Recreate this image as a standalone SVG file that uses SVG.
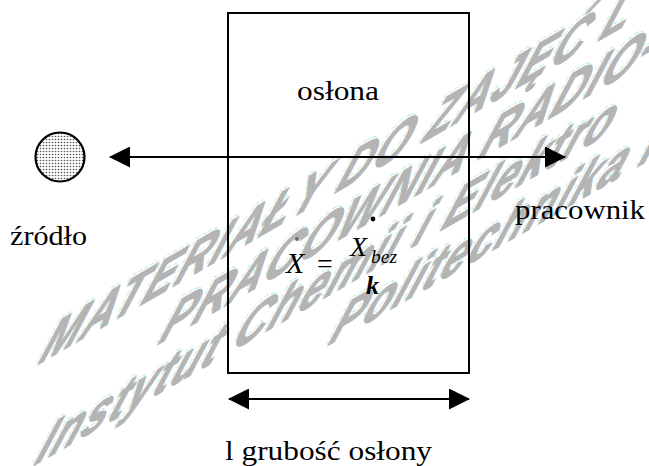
<svg xmlns="http://www.w3.org/2000/svg" width="649" height="466" viewBox="0 0 649 466">
  <defs>
    <!-- fine dot screen used for the source disc -->
    <pattern id="stipple" width="3" height="3" patternUnits="userSpaceOnUse">
      <rect width="3" height="3" fill="#ffffff"/>
      <circle cx="1.5" cy="1.5" r="0.8" fill="#505050"/>
    </pattern>
    <marker id="head" viewBox="0 0 21 21" refX="20" refY="10.5" markerWidth="21" markerHeight="21" markerUnits="userSpaceOnUse" orient="auto-start-reverse">
      <path d="M0,0 L21,10.5 L0,21 Z" fill="#000"/>
    </marker>
    <style>
      .lbl { font-size: 27px; fill: #000; }
      .line { stroke: #000; stroke-width: 2; fill: none; }
      .wm { fill: #b4b4b4; stroke: #b4b4b4; stroke-width: 1.2; }
      .wm-edge { fill: none; stroke: #b8eeee; stroke-width: 1; stroke-dasharray: 4 2; }
    </style>
  </defs>

  <rect width="649" height="466" fill="#ffffff"/>

  <!-- slanted background watermark -->
  <g id="watermark" font-family="'Liberation Sans', Arial, sans-serif" font-weight="bold" font-style="italic" font-size="46" letter-spacing="2">
    <g transform="translate(37,365) skewY(-30) skewX(-30)">
      <text class="wm-edge" x="-3" y="-3">MATERIAŁY DO ZAJĘĆ L</text>
      <text class="wm" x="0" y="0">MATERIAŁY DO ZAJĘĆ L</text>
    </g>
    <g transform="translate(157,345) skewY(-30) skewX(-30)">
      <text class="wm-edge" x="-3" y="-3">PRACOWNIA RADIO-</text>
      <text class="wm" x="0" y="0">PRACOWNIA RADIO-</text>
    </g>
    <g transform="translate(33,466) skewY(-30) skewX(-30)">
      <text class="wm-edge" x="-3" y="-3">Instytut Chemii i Elektro</text>
      <text class="wm" x="0" y="0">Instytut Chemii i Elektro</text>
    </g>
    <g transform="translate(327,346) skewY(-30) skewX(-30)">
      <text class="wm-edge" x="-3" y="-3">Politechnika P</text>
      <text class="wm" x="0" y="0">Politechnika P</text>
    </g>
  </g>

  <!-- radiation source -->
  <g id="source">
    <circle cx="60" cy="157" r="24.5" fill="url(#stipple)" stroke="#000" stroke-width="2.2"/>
    <text class="lbl" font-family="'Liberation Serif', 'Times New Roman', serif" x="10" y="245" textLength="77" lengthAdjust="spacingAndGlyphs">źródło</text>
  </g>

  <!-- shield block with the attenuation formula -->
  <g id="shield">
    <rect class="line" x="228" y="13" width="241" height="360"/>
    <text class="lbl" font-family="'Liberation Serif', 'Times New Roman', serif" x="297" y="100" textLength="82" lengthAdjust="spacingAndGlyphs">osłona</text>
    <g id="formula" font-family="'Liberation Serif', 'Times New Roman', serif" fill="#000">
      <circle cx="297" cy="239" r="2" fill="#666"/>
      <text font-style="italic" x="286" y="273" font-size="30">X</text>
      <text x="317" y="273" font-size="28">=</text>
      <circle cx="373" cy="219" r="2.4" fill="#000"/>
      <text font-style="italic" x="350" y="256" font-size="28">X</text>
      <text font-style="italic" x="371" y="263" font-size="18" textLength="26" lengthAdjust="spacingAndGlyphs">bez</text>
      <text font-style="italic" font-weight="bold" x="366" y="294" font-size="26">k</text>
    </g>
  </g>

  <!-- exposed worker -->
  <g id="worker">
    <text class="lbl" font-family="'Liberation Serif', 'Times New Roman', serif" x="515" y="219" textLength="130" lengthAdjust="spacingAndGlyphs">pracownik</text>
  </g>

  <!-- thickness label -->
  <g id="thickness">
    <text class="lbl" font-family="'Liberation Serif', 'Times New Roman', serif" x="225" y="460" textLength="207" lengthAdjust="spacingAndGlyphs">l grubość osłony</text>
  </g>

  <g id="connectors">
    <line class="line" x1="110" y1="157" x2="565" y2="157" marker-start="url(#head)" marker-end="url(#head)"/>
    <line class="line" x1="229" y1="399" x2="469" y2="399" marker-start="url(#head)" marker-end="url(#head)"/>
  </g>
</svg>
